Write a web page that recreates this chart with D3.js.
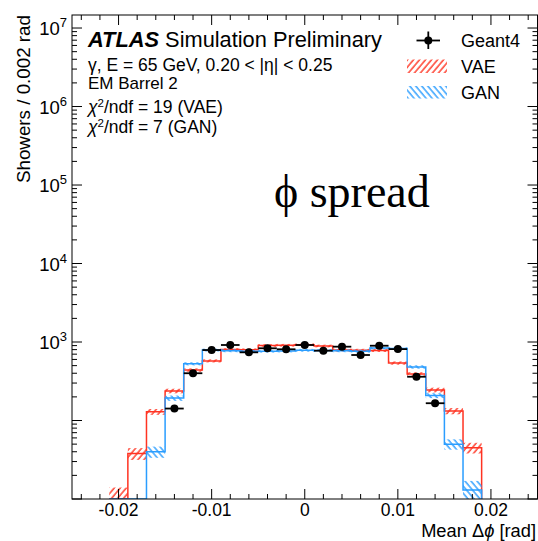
<!DOCTYPE html>
<html>
<head>
<meta charset="utf-8">
<script src="https://cdn.jsdelivr.net/npm/d3@7"></script>
<style>
  body { margin: 0; background: #fff; }
  svg { display: block; }
  text { font-family: "Liberation Sans", Arial, Helvetica, sans-serif; fill: #000; }
  text.serif { font-family: "Liberation Serif", "Times New Roman", serif; }
</style>
</head>
<body>
<svg id="chart" width="538" height="541"></svg>
<script>
// Bin centres of the mean-Δϕ histogram (bin width 0.002 rad)
const binCenters = [-0.020, -0.018, -0.016, -0.014, -0.012, -0.010, -0.008, -0.006, -0.004, -0.002,
                     0.000,  0.002,  0.004,  0.006,  0.008,  0.010,  0.012,  0.014,  0.016,  0.018];
const binWidth = 0.002;

// Geant4 reference (points with error bars)
const geant4    = [0, 0, 0, 142, 400, 790, 916, 739, 832, 808, 916, 775, 872, 683, 897, 812, 361, 166, 0, 0];
const geant4Err = [0, 0, 0, 12, 20, 28, 30, 27, 29, 28, 30, 28, 30, 26, 30, 28, 19, 13, 0, 0];

// VAE prediction (red hatched band)
const vae    = [10, 38, 129, 238, 440, 575, 800, 795, 905, 910, 925, 890, 790, 785, 780, 540, 391, 245, 132, 45];
const vaeErr = [4, 6.5, 11, 16, 22, 26, 34, 34, 36, 36, 36, 35, 34, 34, 34, 26, 21, 17, 12, 7];

// GAN prediction (blue hatched band)
const gan    = [0, 0, 40, 193, 528, 790, 775, 760, 765, 770, 785, 780, 775, 765, 840, 825, 481, 208, 50, 13];
const ganErr = [0, 0, 6.5, 15, 24, 33, 33, 32, 32, 32, 33, 33, 33, 32, 34, 34, 24, 15, 7.5, 4];

const xTickLabels = ["-0.02", "-0.01", "0", "0.01", "0.02"];
const yLabelExponents = ["3", "4", "5", "6", "7"];

const infoLines = [
  "γ, E = 65 GeV, 0.20 < |η| < 0.25",
  "EM Barrel 2"
];
const chiLines = [
  ["χ", "2", "/ndf = 19 (VAE)"],
  ["χ", "2", "/ndf = 7 (GAN)"]
];

const RED = "#ff3322";
const BLUE = "#2a9dff";

const svg = d3.select("#chart");
const plot = { left: 72, right: 537.5, top: 15, bottom: 499 };

const x = d3.scaleLinear().domain([-0.025, 0.025]).range([plot.left, plot.right]);
const yMin = 10, yMax = Math.pow(10, 7.166);
const y = d3.scaleLog().domain([yMin, yMax]).range([plot.bottom, plot.top]);

const defs = svg.append("defs");
defs.append("clipPath").attr("id", "plotClip")
  .append("rect")
  .attr("x", plot.left).attr("y", plot.top)
  .attr("width", plot.right - plot.left).attr("height", plot.bottom - plot.top);

function hatch(id, color, angle) {
  const p = defs.append("pattern")
    .attr("id", id)
    .attr("patternUnits", "userSpaceOnUse")
    .attr("width", 4.6).attr("height", 4.6)
    .attr("patternTransform", `rotate(${angle})`);
  p.append("line")
    .attr("x1", 1).attr("y1", 0).attr("x2", 1).attr("y2", 4.6)
    .attr("stroke", color).attr("stroke-width", 1.4);
}
hatch("hatchRed", RED, 40);
hatch("hatchBlue", BLUE, -40);

const data = svg.append("g").attr("clip-path", "url(#plotClip)");

const yc = v => y(Math.max(v, yMin));

function drawHist(values, errors, color, patternId) {
  const g = data.append("g");
  // statistical uncertainty band
  g.selectAll("rect")
    .data(binCenters.map((c, i) => ({ c, v: values[i], e: errors[i] })).filter(d => d.v > 0))
    .join("rect")
    .attr("x", d => x(d.c - binWidth / 2))
    .attr("width", d => x(d.c + binWidth / 2) - x(d.c - binWidth / 2))
    .attr("y", d => yc(d.v + d.e))
    .attr("height", d => yc(d.v - d.e) - yc(d.v + d.e))
    .attr("fill", `url(#${patternId})`);
  // step outline
  const pts = [[x(binCenters[0] - binWidth / 2), yc(0)]];
  binCenters.forEach((c, i) => {
    pts.push([x(c - binWidth / 2), yc(values[i])]);
    pts.push([x(c + binWidth / 2), yc(values[i])]);
  });
  pts.push([x(binCenters[binCenters.length - 1] + binWidth / 2), yc(0)]);
  g.append("path")
    .attr("d", d3.line()(pts))
    .attr("fill", "none")
    .attr("stroke", color)
    .attr("stroke-width", 1.5);
}

drawHist(vae, vaeErr, RED, "hatchRed");
drawHist(gan, ganErr, BLUE, "hatchBlue");

// Geant4 points
const g4 = data.append("g");
const g4pts = binCenters.map((c, i) => ({ c, v: geant4[i], e: geant4Err[i] })).filter(d => d.v > 0);
g4.selectAll("line.h").data(g4pts).join("line")
  .attr("x1", d => x(d.c - binWidth / 2)).attr("x2", d => x(d.c + binWidth / 2))
  .attr("y1", d => y(d.v)).attr("y2", d => y(d.v))
  .attr("stroke", "#000").attr("stroke-width", 1.8);
g4.selectAll("line.v").data(g4pts).join("line")
  .attr("x1", d => x(d.c)).attr("x2", d => x(d.c))
  .attr("y1", d => y(d.v + d.e)).attr("y2", d => yc(d.v - d.e))
  .attr("stroke", "#000").attr("stroke-width", 1.8);
g4.selectAll("circle").data(g4pts).join("circle")
  .attr("cx", d => x(d.c)).attr("cy", d => y(d.v)).attr("r", 4)
  .attr("fill", "#000");

// Frame and ticks
const axes = svg.append("g").attr("stroke", "#000").attr("stroke-width", 1).attr("fill", "none");
axes.append("rect")
  .attr("x", plot.left).attr("y", plot.top)
  .attr("width", plot.right - plot.left).attr("height", plot.bottom - plot.top);

const xMajor = x.ticks(5);
const xMinor = x.ticks(25);
xMinor.forEach(t => {
  const isMajor = xMajor.some(m => Math.abs(m - t) < 1e-9);
  const len = isMajor ? 10 : 5;
  axes.append("line").attr("x1", x(t)).attr("x2", x(t)).attr("y1", plot.bottom).attr("y2", plot.bottom - len);
  axes.append("line").attr("x1", x(t)).attr("x2", x(t)).attr("y1", plot.top).attr("y2", plot.top + len);
});

y.ticks().forEach(t => {
  const mant = t / Math.pow(10, Math.floor(Math.log10(t) + 1e-9));
  const isMajor = Math.abs(mant - 1) < 1e-6;
  const len = isMajor ? 10 : 5;
  axes.append("line").attr("x1", plot.left).attr("x2", plot.left + len).attr("y1", y(t)).attr("y2", y(t));
  axes.append("line").attr("x1", plot.right).attr("x2", plot.right - len).attr("y1", y(t)).attr("y2", y(t));
});

// X tick labels
svg.append("g").selectAll("text")
  .data(xMajor)
  .join("text")
  .attr("x", d => x(d))
  .attr("y", 516)
  .attr("text-anchor", "middle")
  .attr("font-size", 17.5)
  .text((d, i) => xTickLabels[i]);

// Y tick labels (10^n)
const yl = svg.append("g");
yLabelExponents.forEach(ex => {
  const t = yl.append("text")
    .attr("x", 67)
    .attr("y", y(Math.pow(10, +ex)) + 7)
    .attr("text-anchor", "end")
    .attr("font-size", 18.5);
  t.append("tspan").text("10");
  t.append("tspan").attr("dy", -8).attr("font-size", 13).text(ex);
});

// Axis titles
svg.append("text")
  .attr("transform", `translate(30,${plot.top}) rotate(-90)`)
  .attr("text-anchor", "end")
  .attr("font-size", 18.8)
  .text("Showers / 0.002 rad");

const xt = svg.append("text")
  .attr("x", 536)
  .attr("y", 537)
  .attr("text-anchor", "end")
  .attr("font-size", 18.3);
xt.append("tspan").text("Mean Δ");
xt.append("tspan").attr("font-style", "italic").text("ϕ");
xt.append("tspan").text(" [rad]");

// ATLAS label block
const head = svg.append("text").attr("x", 88).attr("y", 47).attr("font-size", 21.8);
head.append("tspan").attr("font-weight", "bold").attr("font-style", "italic").text("ATLAS");
head.append("tspan").text(" Simulation Preliminary");

svg.append("text").attr("x", 88).attr("y", 71).attr("font-size", 17.5)
  .text(infoLines[0]);
svg.append("text").attr("x", 88).attr("y", 88.5).attr("font-size", 17)
  .text(infoLines[1]);

const chiY = [112.8, 132.5];
chiLines.forEach((parts, i) => {
  const t = svg.append("text").attr("x", 88).attr("y", chiY[i]).attr("font-size", 17.5);
  t.append("tspan").attr("font-style", "italic").text(parts[0]);
  t.append("tspan").attr("dy", -6).attr("font-size", 11.5).text(parts[1]);
  t.append("tspan").attr("dy", 6).text(parts[2]);
});

// Legend
const leg = svg.append("g");
leg.append("line").attr("x1", 416.5).attr("x2", 440).attr("y1", 40.5).attr("y2", 40.5)
  .attr("stroke", "#000").attr("stroke-width", 1.8);
leg.append("line").attr("x1", 428.3).attr("x2", 428.3).attr("y1", 31.5).attr("y2", 49)
  .attr("stroke", "#000").attr("stroke-width", 1.8);
leg.append("circle").attr("cx", 428.3).attr("cy", 40.5).attr("r", 4).attr("fill", "#000");
leg.append("text").attr("x", 461).attr("y", 46.5).attr("font-size", 18).text("Geant4");

leg.append("rect").attr("x", 407).attr("y", 59.5).attr("width", 40).attr("height", 13.5)
  .attr("fill", "url(#hatchRed)");
leg.append("text").attr("x", 461).attr("y", 73).attr("font-size", 18).text("VAE");

leg.append("rect").attr("x", 407).attr("y", 86).attr("width", 40).attr("height", 12.5)
  .attr("fill", "url(#hatchBlue)");
leg.append("text").attr("x", 461).attr("y", 98.5).attr("font-size", 18).text("GAN");

// Observable label
svg.append("text")
  .attr("class", "serif")
  .attr("x", 274)
  .attr("y", 206.5)
  .attr("font-size", 46)
  .text("ϕ spread");
</script>
</body>
</html>
